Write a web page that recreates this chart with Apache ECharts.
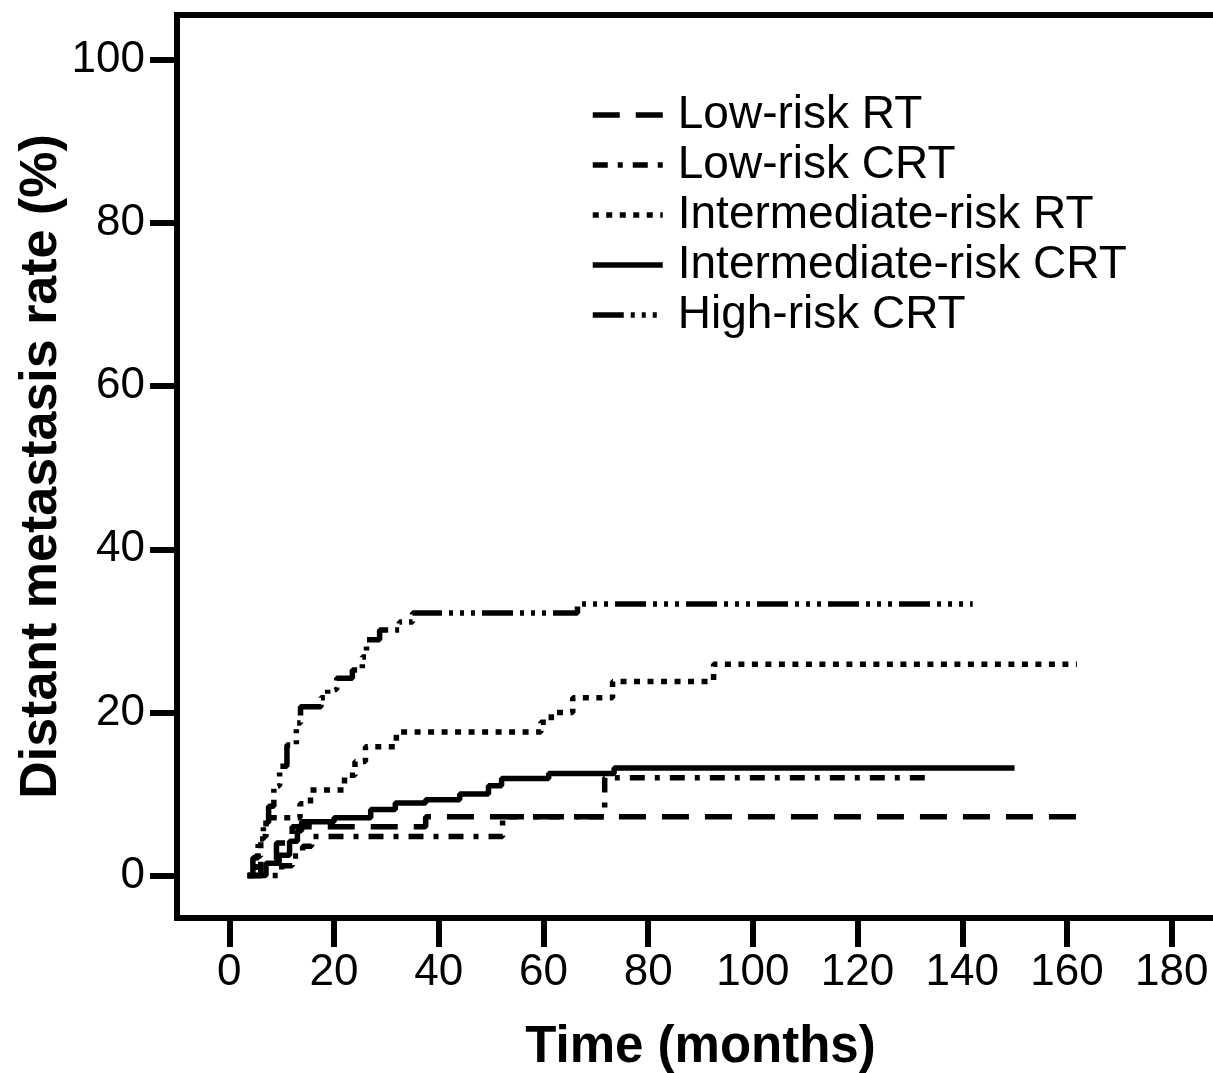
<!DOCTYPE html>
<html>
<head>
<meta charset="utf-8">
<script src="https://cdn.jsdelivr.net/npm/echarts@6/dist/echarts.min.js"></script>
<style>
html,body{margin:0;padding:0;background:#fff;}
#chart{width:1213px;height:1073px;}
</style>
</head>
<body>
<div id="chart"></div>
<script>
// ---- data (time in months, distant metastasis rate in %) ----
const seriesNames = ['Low-risk RT', 'Low-risk CRT', 'Intermediate-risk RT', 'Intermediate-risk CRT', 'High-risk CRT'];
const xTicks = [0, 20, 40, 60, 80, 100, 120, 140, 160, 180];
const yTicks = [0, 20, 40, 60, 80, 100];

const lowRiskRT = [[3.5,0],[6,2],[9,4],[12,6.0],[37.5,7.2],[162.5,7.2]];
const lowRiskCRT = [[3.5,0],[10,1.2],[12,2.4],[14,3.6],[15.7,4.8],[52.2,7.2],[71.7,12.0],[134.4,12.0]];
const intRiskRT = [[3.5,0],[5,2.4],[6,4.8],[7,7.1],[13.5,8.8],[15.5,10.5],[22,12.3],[24,14.0],[26,15.8],[31.9,17.6],[59.5,18.8],[61.5,20.0],[65.6,21.8],[73.2,23.8],[92.5,25.9],[161.9,25.9]];
const intRiskCRT = [[3.5,0],[7,1.5],[9.5,2.5],[11.5,4.2],[13,5.5],[13.8,6.6],[20,7.1],[27,8.1],[31.7,8.9],[37.5,9.3],[44,10.0],[49.5,11.0],[52,11.9],[61,12.5],[73.5,13.2],[150,13.2]];
const highRiskCRT = [[3.5,0],[4.5,2.2],[5.5,4.5],[6.5,6.5],[7.5,8.5],[8.5,11.0],[9.6,13.4],[11,16.0],[12.8,18.7],[13.6,20.7],[17.5,21.8],[18.8,22.8],[20.5,24.2],[23.5,25.2],[25.4,26.8],[26.2,28.9],[28.7,30.1],[32.5,31.1],[35,32.2],[66.5,33.3],[142,33.3]];

const seriesData = [lowRiskRT, lowRiskCRT, intRiskRT, intRiskCRT, highRiskCRT];
const dashes = [
  [27, 16],
  [15, 10, 5, 10],
  [6, 7.5],
  'solid',
  [31, 7, 4, 7, 4, 7, 4, 7]
];

const FONT = 'Liberation Sans, Arial, Helvetica, sans-serif';
const chart = echarts.init(document.getElementById('chart'), null, {renderer: 'canvas'});

chart.setOption({
  animation: false,
  backgroundColor: '#fff',
  grid: {
    left: 177, top: 15, right: -11, bottom: 155,
    outerBoundsMode: 'none', containLabel: false,
    show: true, borderColor: '#000', borderWidth: 6, backgroundColor: 'transparent'
  },
  legend: {
    orient: 'vertical',
    left: 585, top: 87,
    itemWidth: 70, itemHeight: 14, itemGap: 4,
    data: seriesNames,
    textStyle: {fontFamily: FONT, fontSize: 46, color: '#000', padding: [0, 0, 0, 10]},
    lineStyle: {width: 5.5},
    itemStyle: {color: 'rgba(0,0,0,0)', borderWidth: 0, opacity: 0},
    selectedMode: false
  },
  xAxis: {
    type: 'value', min: -10, max: 190,
    name: 'Time (months)', nameLocation: 'middle', nameGap: 104, nameMoveOverlap: false,
    nameTextStyle: {fontFamily: FONT, fontSize: 51, fontWeight: 'bold', color: '#000'},
    axisLine: {show: false, onZero: false},
    axisTick: {show: true, inside: false, length: 29, lineStyle: {color: '#000', width: 6}, customValues: xTicks},
    axisLabel: {fontFamily: FONT, fontSize: 44, color: '#000', margin: 33, customValues: xTicks},
    splitLine: {show: false}
  },
  yAxis: {
    type: 'value', min: -5.2, max: 105.5,
    name: 'Distant metastasis rate (%)', nameLocation: 'middle', nameGap: 109, nameMoveOverlap: false,
    nameTextStyle: {fontFamily: FONT, fontSize: 52, fontWeight: 'bold', color: '#000'},
    axisLine: {show: false, onZero: false},
    axisTick: {show: true, inside: false, length: 27, lineStyle: {color: '#000', width: 6}, customValues: yTicks},
    axisLabel: {fontFamily: FONT, fontSize: 44, color: '#000', margin: 32, customValues: yTicks},
    splitLine: {show: false}
  },
  series: seriesNames.map((n, i) => ({
    name: n,
    type: 'line',
    step: 'end',
    data: seriesData[i],
    symbol: 'none',
    showSymbol: false,
    color: '#000',
    lineStyle: {color: '#000', width: 5.5, type: dashes[i]}
  }))
});
</script>
</body>
</html>
